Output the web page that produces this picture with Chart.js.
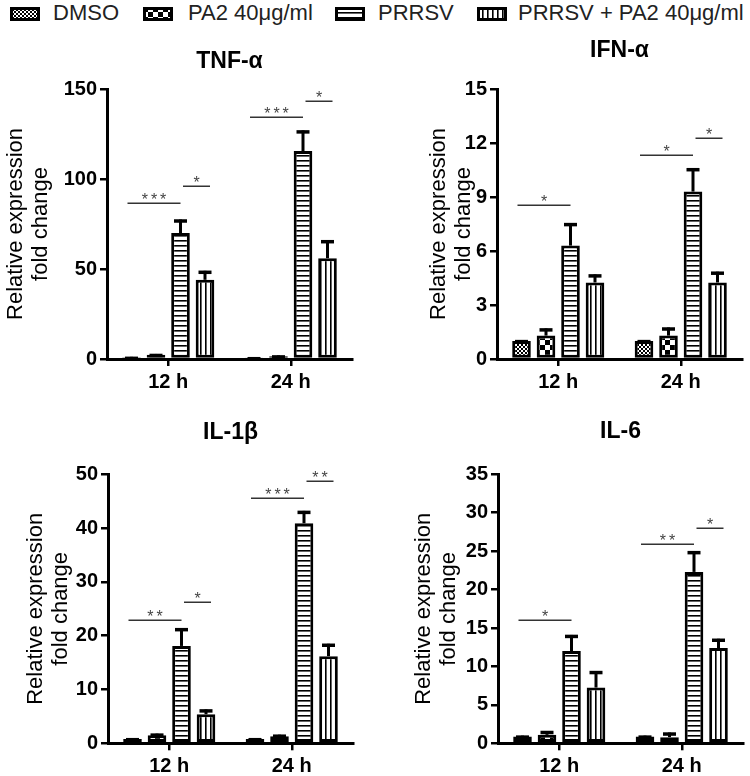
<!DOCTYPE html>
<html>
<head>
<meta charset="utf-8">
<script src="https://cdn.jsdelivr.net/npm/chart.js@4"></script>
<style>
  html, body { margin:0; padding:0; background:#fff; }
  body { width:750px; height:776px; position:relative; overflow:hidden; font-family:"Liberation Sans", Arial, sans-serif; }
  canvas.panel { position:absolute; }
  .lg-sw { position:absolute; top:7px; }
  .lg-tx { position:absolute; top:2px; font-size:22px; line-height:22px; color:#222; white-space:nowrap; }
</style>
</head>
<body>
<canvas id="c1" class="panel" width="375" height="370" style="left:0;top:30px"></canvas>
<canvas id="c2" class="panel" width="375" height="370" style="left:375px;top:30px"></canvas>
<canvas id="c3" class="panel" width="375" height="376" style="left:0;top:400px"></canvas>
<canvas id="c4" class="panel" width="375" height="376" style="left:375px;top:400px"></canvas>
<script>
// ---------- DATA ----------
const categories = ['12 h', '24 h'];
const seriesNames = ['DMSO', 'PA2 40μg/ml', 'PRRSV', 'PRRSV + PA2 40μg/ml'];
const yAxisTitle = ['Relative expression', 'fold change'];

// TNF-α  (rows: DMSO, PA2, PRRSV, PRRSV+PA2 ; columns: 12 h, 24 h)
const tnfMeans  = [[1.0, 0.8], [2.3, 1.5], [70, 115.5], [44, 56]];
const tnfErrors = [[0.2, 0.2], [0.5, 0.5], [7.5, 11.5], [5, 10]];
const tnfTicks  = [0, 50, 100, 150];
const tnfSig    = [[0, 0, 2, 86.5, '***'], [0, 2, 3, 96.3, '*'], [1, 0, 2, 134.3, '***'], [1, 2, 3, 143.3, '*']];

// IFN-α
const ifnMeans  = [[1.0, 1.0], [1.3, 1.3], [6.3, 9.3], [4.25, 4.25]];
const ifnErrors = [[0.05, 0.05], [0.4, 0.45], [1.25, 1.3], [0.45, 0.6]];
const ifnTicks  = [0, 3, 6, 9, 12, 15];
const ifnSig    = [[0, 0, 2, 8.53, '*'], [1, 0, 2, 11.34, '*'], [1, 2, 3, 12.27, '*']];

// IL-1β
const il1Means  = [[0.8, 0.8], [1.5, 1.3], [18.1, 40.9], [5.4, 16.2]];
const il1Errors = [[0.15, 0.15], [0.3, 0.3], [3.3, 2.3], [0.9, 2.3]];
const il1Ticks  = [0, 10, 20, 30, 40, 50];
const il1Sig    = [[0, 0, 2, 22.9, '**'], [0, 2, 3, 26.2, '*'], [1, 0, 2, 45.6, '***'], [1, 2, 3, 48.75, '**']];

// IL-6
const il6Means  = [[0.9, 0.9], [1.1, 0.8], [12.0, 22.3], [7.25, 12.4]];
const il6Errors = [[0.1, 0.1], [0.5, 0.6], [2.1, 2.7], [2.15, 1.2]];
const il6Ticks  = [0, 5, 10, 15, 20, 25, 30, 35];
const il6Sig    = [[0, 0, 2, 16.04, '*'], [1, 0, 2, 25.9, '**'], [1, 2, 3, 28.05, '*']];

// ---------- STYLE ----------
const FONT = '"Liberation Sans", Arial, sans-serif';

function makePattern(kind) {
  const c = document.createElement('canvas');
  const g = c.getContext('2d');
  if (kind === 'dots') {
    c.width = 4; c.height = 4;
    g.fillStyle = '#fff'; g.fillRect(0, 0, 4, 4);
    g.fillStyle = '#000'; g.fillRect(0, 0, 2, 2); g.fillRect(2, 2, 2, 2);
  } else if (kind === 'checker') {
    c.width = 10; c.height = 10;
    g.fillStyle = '#fff'; g.fillRect(0, 0, 10, 10);
    g.fillStyle = '#000'; g.fillRect(0, 0, 5, 5); g.fillRect(5, 5, 5, 5);
  } else if (kind === 'hlines') {
    c.width = 6; c.height = 5;
    g.fillStyle = '#fff'; g.fillRect(0, 0, 6, 5);
    g.fillStyle = '#000'; g.fillRect(0, 0, 6, 1.6);
  } else {
    c.width = 5; c.height = 6;
    g.fillStyle = '#fff'; g.fillRect(0, 0, 5, 6);
    g.fillStyle = '#000'; g.fillRect(0, 0, 1.6, 6);
  }
  return g.createPattern(c, 'repeat');
}
const patternKinds = ['dots', 'checker', 'hlines', 'vlines'];
const patterns = patternKinds.map(makePattern);

// ---------- LEGEND ----------
const legSwatchX = [10, 143, 335, 477];
const legTextX = [53, 188, 378, 518];
seriesNames.forEach((name, i) => {
  const sw = document.createElement('canvas');
  sw.width = 30; sw.height = 14; sw.className = 'lg-sw';
  sw.style.left = legSwatchX[i] + 'px';
  const g = sw.getContext('2d');
  g.fillStyle = patterns[i]; g.fillRect(0, 0, 30, 14);
  g.strokeStyle = '#000'; g.lineWidth = 3; g.strokeRect(1.5, 1.5, 27, 11);
  document.body.appendChild(sw);
  const tx = document.createElement('div');
  tx.className = 'lg-tx'; tx.textContent = name;
  tx.style.left = legTextX[i] + 'px';
  document.body.appendChild(tx);
});

// ---------- CHARTS ----------
function extras(means, errs, sig) {
  return {
    id: 'extras',
    afterDatasetsDraw(chart) {
      const ctx = chart.ctx, ys = chart.scales.y;
      ctx.save();
      ctx.strokeStyle = '#000'; ctx.lineCap = 'butt';
      errs.forEach((arr, di) => {
        chart.getDatasetMeta(di).data.forEach((bar, ci) => {
          const top = ys.getPixelForValue(means[di][ci] + arr[ci]);
          ctx.lineWidth = 3;
          ctx.beginPath();
          ctx.moveTo(bar.x, bar.y); ctx.lineTo(bar.x, top);
          ctx.stroke();
          ctx.lineWidth = 3.5;
          ctx.beginPath();
          ctx.moveTo(bar.x - 6.5, top + 1.5); ctx.lineTo(bar.x + 6.5, top + 1.5);
          ctx.stroke();
        });
      });
      ctx.lineWidth = 1.5; ctx.strokeStyle = '#333';
      ctx.fillStyle = '#444'; ctx.font = '16px ' + FONT;
      ctx.textAlign = 'center'; ctx.textBaseline = 'alphabetic';
      try { ctx.letterSpacing = '3px'; } catch (e) {}
      sig.forEach(([ci, a, b, v, label]) => {
        const xa = chart.getDatasetMeta(a).data[ci].x;
        const xb = chart.getDatasetMeta(b).data[ci].x;
        let x1, x2;
        if (a === 0) { x1 = xa - 4; x2 = xb; } else { x1 = xb - 22; x2 = xb + 5; }
        const yy = Math.round(ys.getPixelForValue(v)) + 0.25;
        ctx.beginPath(); ctx.moveTo(x1, yy); ctx.lineTo(x2, yy); ctx.stroke();
        ctx.fillText(label, (x1 + x2) / 2 + 1.5, yy + 2);
      });
      ctx.restore();
    }
  };
}

function makeChart(id, title, means, errs, ticks, sig, lay) {
  const axisGrid = { display: true, drawOnChartArea: false, drawTicks: true, tickLength: 7, color: '#000', lineWidth: 2.5 };
  const axisBorder = { display: true, color: '#000', width: 3 };
  new Chart(document.getElementById(id), {
    type: 'bar',
    data: {
      labels: categories,
      datasets: seriesNames.map((n, i) => ({
        label: n, data: means[i], backgroundColor: patterns[i],
        borderColor: '#000', borderWidth: 3, borderSkipped: false,
        categoryPercentage: 0.8, barPercentage: 0.76
      }))
    },
    options: {
      responsive: false, animation: false, devicePixelRatio: 1,
      events: [],
      layout: { padding: { left: 0, right: lay.right, top: 0, bottom: lay.bottom } },
      plugins: {
        legend: { display: false }, tooltip: { enabled: false },
        title: {
          display: true, text: title, fullSize: false, color: '#000',
          font: { family: FONT, size: 23, weight: 'bold', lineHeight: 1.2 },
          padding: { top: lay.tTop, bottom: lay.tBottom }
        }
      },
      scales: {
        x: {
          offset: true,
          grid: Object.assign({}, axisGrid, { offset: false }),
          border: axisBorder,
          ticks: { font: { family: FONT, size: 20, weight: 'bold' }, color: '#000', padding: 4, maxRotation: 0, autoSkip: false },
          afterFit: s => { s.height = 30; }
        },
        y: {
          min: ticks[0], max: ticks[ticks.length - 1],
          afterBuildTicks: s => { s.ticks = ticks.map(v => ({ value: v })); },
          grid: axisGrid, border: axisBorder,
          ticks: { font: { family: FONT, size: 20, weight: 'bold' }, color: '#000', padding: 3 },
          title: {
            display: true, text: yAxisTitle, color: '#000',
            font: { family: FONT, size: 22, lineHeight: 1.15 },
            padding: { top: lay.yPad, bottom: 0 }
          },
          afterFit: s => { s.width = lay.yWidth; }
        }
      }
    },
    plugins: [extras(means, errs, sig)]
  });
}

makeChart('c1', 'TNF-α', tnfMeans, tnfErrors, tnfTicks, tnfSig,
  { right: 23, bottom: 11, tTop: 18.2, tBottom: 13.2, yPad: 3.4, yWidth: 107 });
makeChart('c2', 'IFN-α', ifnMeans, ifnErrors, ifnTicks, ifnSig,
  { right: 8, bottom: 11, tTop: 7.2, tBottom: 24.2, yPad: 50.8, yWidth: 122 });
makeChart('c3', 'IL-1β', il1Means, il1Errors, il1Ticks, il1Sig,
  { right: 22, bottom: 2.7, tTop: 19.2, tBottom: 27.5, yPad: 23.4, yWidth: 108 });
makeChart('c4', 'IL-6', il6Means, il6Errors, il6Ticks, il6Sig,
  { right: 7, bottom: 2.7, tTop: 18.2, tBottom: 28.5, yPad: 36.4, yWidth: 123 });
</script>
</body>
</html>
